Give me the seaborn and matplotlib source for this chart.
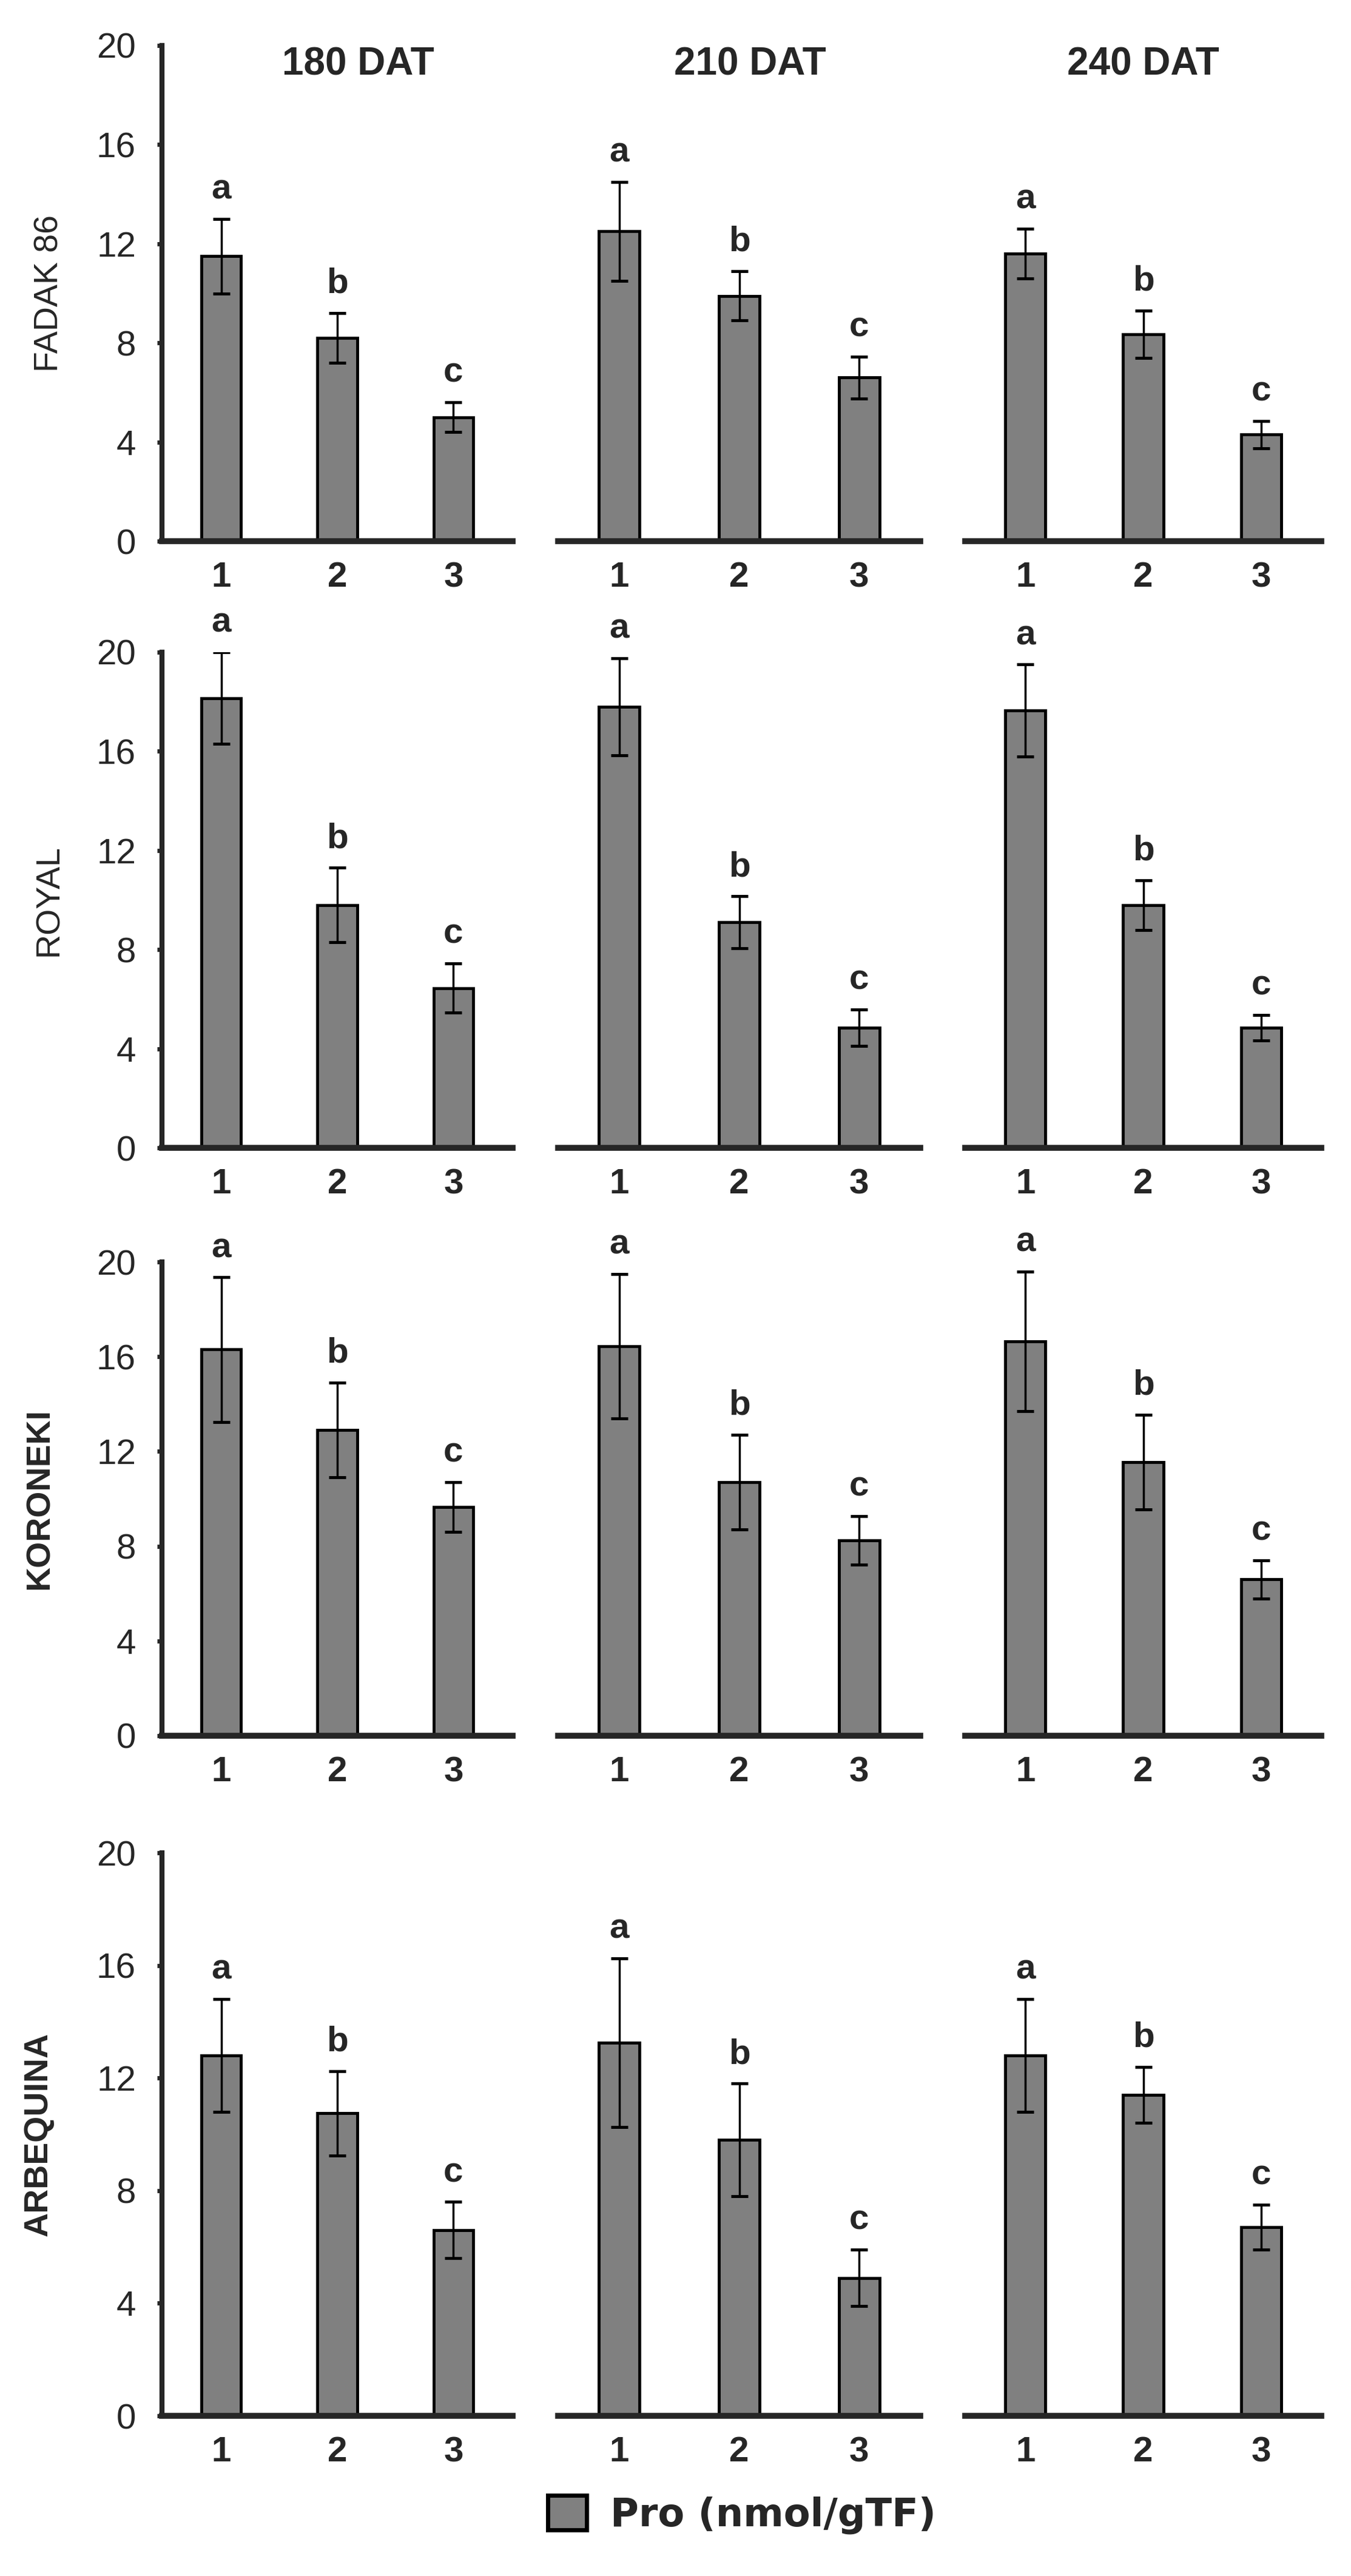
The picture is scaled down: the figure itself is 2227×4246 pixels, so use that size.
import pandas as pd
import matplotlib.pyplot as plt
from matplotlib.patches import Patch
import seaborn as sns

# --- dados ---
cultivars = ['FADAK 86', 'ROYAL', 'KORONEKI', 'ARBEQUINA']
times = ['180 DAT', '210 DAT', '240 DAT']
treatments = ['1', '2', '3']
letters = ['a', 'b', 'c']

# medias por cultivar: uma linha por tempo (180, 210, 240 DAT)
fadak_mean = [[11.5, 8.2, 5.0], [12.5, 9.9, 6.6], [11.6, 8.35, 4.3]]
fadak_err = [[1.5, 1.0, 0.6], [2.0, 1.0, 0.85], [1.0, 0.95, 0.55]]
royal_mean = [[18.15, 9.8, 6.45], [17.8, 9.1, 4.85], [17.65, 9.8, 4.85]]
royal_err = [[1.85, 1.5, 1.0], [1.95, 1.05, 0.73], [1.85, 1.0, 0.52]]
koroneki_mean = [[16.3, 12.9, 9.65], [16.45, 10.7, 8.25], [16.65, 11.55, 6.6]]
koroneki_err = [[3.05, 2.0, 1.05], [3.05, 2.0, 1.03], [2.95, 2.0, 0.8]]
arbequina_mean = [[12.8, 10.75, 6.6], [13.25, 9.8, 4.9], [12.8, 11.4, 6.7]]
arbequina_err = [[2.0, 1.5, 1.0], [3.0, 2.0, 1.0], [2.0, 1.0, 0.8]]

legend_label = 'Pro (nmol/gTF)'

all_means = [fadak_mean, royal_mean, koroneki_mean, arbequina_mean]
all_errs = [fadak_err, royal_err, koroneki_err, arbequina_err]

rows = []
for ci, cv in enumerate(cultivars):
    for ti, t in enumerate(times):
        for k, tr in enumerate(treatments):
            rows.append({'cultivar': cv, 'time': t, 'treatment': tr,
                         'mean': all_means[ci][ti][k], 'err': all_errs[ci][ti][k],
                         'letter': letters[k]})
df = pd.DataFrame(rows)

sns.set_style('white')
plt.rcParams['font.family'] = ['Liberation Sans', 'DejaVu Sans']

W, H = 2227, 4246
fig = plt.figure(figsize=(W / 100, H / 100), dpi=100)
fig.patch.set_facecolor('white')

# layout em pixels (esquerda/direita, topo/base)
col_px = [(267, 845), (920, 1517), (1591, 2178)]
row_px = [(75, 892), (1075, 1892), (2080, 2861), (3054, 3982)]
title_x = [0.56, 0.53, 0.50]
ylabel_x = [81, 81, 66, 64]
ylabel_bold = [False, False, True, True]
gray = '#808080'

for r, cv in enumerate(cultivars):
    top, bot = row_px[r]
    for c, t in enumerate(times):
        left, right = col_px[c]
        ax = fig.add_axes([left / W, 1 - bot / H, (right - left) / W, (bot - top) / H])
        ax.patch.set_alpha(0)
        sub = df[(df['cultivar'] == cv) & (df['time'] == t)]
        sns.barplot(data=sub, x='treatment', y='mean', order=treatments, ax=ax,
                    color=gray, saturation=1, edgecolor='black', linewidth=3.5,
                    width=0.34, errorbar=None)
        xs = list(range(len(treatments)))
        ax.errorbar(xs, sub['mean'], yerr=sub['err'], fmt='none', ecolor='black',
                    elinewidth=2.5, capsize=10, capthick=3.5, zorder=3)
        for x, m, e, lt in zip(xs, sub['mean'], sub['err'], sub['letter']):
            ax.annotate(lt, xy=(x, m + e), xytext=(0, 24), textcoords='offset points',
                        ha='center', va='baseline', fontsize=42, fontweight='bold',
                        annotation_clip=False)
        ax.set_ylim(0, 20)
        ax.set_xlim(-0.51, 2.51)
        ax.set_xlabel('')
        ax.set_ylabel('')
        ax.set_xticks(xs)
        ax.set_xticklabels(treatments, fontsize=42, fontweight='bold')
        ax.tick_params(axis='x', length=0, pad=24)
        sns.despine(ax=ax, left=(c > 0))
        ax.spines['bottom'].set_linewidth(7)
        if c == 0:
            ax.spines['left'].set_linewidth(6)
            ax.set_yticks([0, 4, 8, 12, 16, 20])
            ax.tick_params(axis='y', direction='out', length=6, width=5,
                           labelsize=42, pad=25, left=True)
        else:
            ax.tick_params(axis='y', left=False, labelleft=False)
        if r == 0:
            ax.text(title_x[c], 19.24 / 20, t, transform=ax.transAxes,
                    fontsize=46, fontweight='bold', ha='center', va='center')
    fig.text(ylabel_x[r] / W, 1 - (top + bot) / 2 / H, cv, rotation=90,
             ha='center', va='center', fontsize=40,
             fontweight='bold' if ylabel_bold[r] else 'normal')

handle = Patch(facecolor=gray, edgecolor='black', linewidth=5, label=legend_label)
fig.legend(handles=[handle], loc='center', bbox_to_anchor=(1223 / W, 1 - 4145 / H),
           frameon=False, handlelength=1.0, handleheight=1.0, handletextpad=0.6,
           prop={'family': 'DejaVu Sans', 'weight': 'bold', 'size': 46})

fig.savefig('out.png', dpi=100)
